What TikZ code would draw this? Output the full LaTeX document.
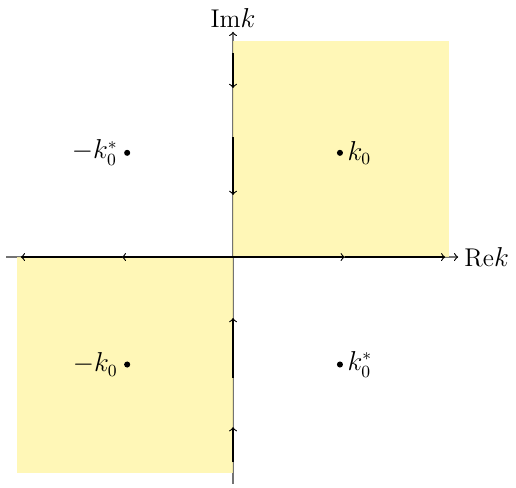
\documentclass[tikz,border=0pt]{standalone}
\begin{document}
\begin{tikzpicture}[x=1cm,y=1cm,
  font=\fontsize{13.5}{16}\selectfont,
  axisline/.style={draw=black!55,line width=0.6pt,-{to[black]},>=to},
  contour/.style={draw=black,line width=0.6pt,->,>=to},
  region/.style={fill={rgb,255:red,255;green,246;blue,170},fill opacity=0.85},
  pt/.style={circle,fill=black,inner sep=0pt,minimum size=3.2pt}]
\useasboundingbox (-4.315,-4.26) rectangle (5.24,4.76);
% axes
\coordinate (O) at (0,0);
\coordinate (xl) at (-4.2,0);
\coordinate (xr) at (4.17,0);
\coordinate (yb) at (0,-4.2);
\coordinate (yt) at (0,4.17);
\draw[axisline] (xl) -- (xr) node[right,inner sep=3pt] (rek) {Re$k$};
\draw[axisline] (yb) -- (yt) node[above,inner sep=2pt] (imk) {Im$k$};
% shaded regions
\path[region] (0,0) rectangle (4,4);
\path[region] (-4,-4) rectangle (0,0);
% contour along real axis
\coordinate (r2) at (2.07,0);
\coordinate (r4) at (3.93,0);
\coordinate (l2) at (-2.06,0);
\coordinate (l4) at (-3.93,0);
\draw[contour] (O) -- (r2);
\draw[contour] (r2) -- (r4);
\draw[contour] (O) -- (l2);
\draw[contour] (l2) -- (l4);
% contour pieces along imaginary axis
\coordinate (u1) at (0,3.78);
\coordinate (u2) at (0,3.13);
\coordinate (u3) at (0,2.22);
\coordinate (u4) at (0,1.15);
\coordinate (d1) at (0,-3.8);
\coordinate (d2) at (0,-3.15);
\coordinate (d3) at (0,-2.24);
\coordinate (d4) at (0,-1.13);
\draw[contour] (u1) -- (u2);
\draw[contour] (u3) -- (u4);
\draw[contour] (d1) -- (d2);
\draw[contour] (d3) -- (d4);
% points
\node[pt] (p1) at (1.98,1.93) {};
\node[right,inner sep=2pt] (p1l) at (p1.east) {$k_0$};
\node[pt] (p2) at (-1.96,1.93) {};
\node[left,inner sep=3pt] (p2l) at (p2.west) {$-k_0^*$};
\node[pt] (p3) at (-1.96,-1.99) {};
\node[left,inner sep=3pt] (p3l) at (p3.west) {$-k_0$};
\node[pt] (p4) at (1.98,-1.99) {};
\node[right,inner sep=2pt] (p4l) at (p4.east) {$k_0^*$};
\end{tikzpicture}
\end{document}
